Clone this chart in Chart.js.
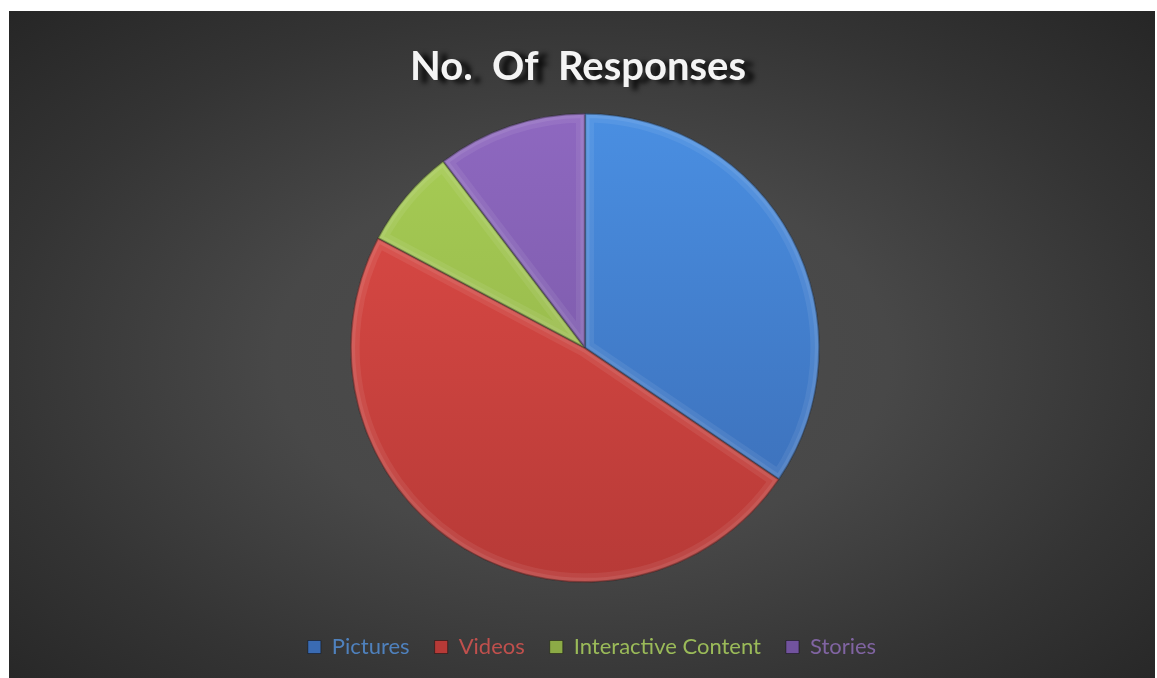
<!DOCTYPE html>
<html>
<head>
<meta charset="utf-8">
<script src="https://cdn.jsdelivr.net/npm/chart.js@4/dist/chart.umd.min.js"></script>
<style>
  html, body {
    margin: 0;
    padding: 0;
    background: #ffffff;
  }

  .frame {
    position: absolute;
    left: 9px;
    top: 11px;
    width: 1146px;
    height: 667px;
    background: radial-gradient(ellipse farthest-corner at 50% 52%, #4d4d4d 0%, #484848 38%, #343434 72%, #262626 100%);
  }
</style>
</head>
<body>
<div class="frame">
  <canvas id="responses" width="1146" height="667"></canvas>
</div>
<script>
const categories = ["Pictures", "Videos", "Interactive Content", "Stories"]
const responses = [10, 14, 2, 3]

// top / bottom shades for each slice, plus the legend text colour
const sliceTop = ["#4a8fe2", "#e04c47", "#a8ce55", "#8e68c0"]
const sliceBottom = ["#3a6bb3", "#b73a37", "#8cab46", "#72539e"]
const legendText = ["#4f81bd", "#c0504d", "#9bbb59", "#8064a2"]

const sliceFill = (context) => {
  const {chart, dataIndex} = context
  const {ctx, chartArea} = chart

  if (!chartArea) {
    return sliceTop[dataIndex]
  }

  const gradient = ctx.createLinearGradient(0, chartArea.top, 0, chartArea.bottom)
  gradient.addColorStop(0, sliceTop[dataIndex])
  gradient.addColorStop(1, sliceBottom[dataIndex])
  return gradient
}

// wraps a layout box's draw so it can be nudged sideways and given a shadow
const wrapDraw = (chart, block, dx, shadow) => {
  if (!block || block._wrapped) {
    return
  }
  const draw = block.draw.bind(block)
  block.draw = (area) => {
    const {ctx} = chart
    ctx.save()
    ctx.translate(dx, 0)
    if (shadow) {
      ctx.shadowColor = "rgba(0, 0, 0, 0.85)"
      ctx.shadowBlur = 5
      ctx.shadowOffsetX = 9
      ctx.shadowOffsetY = 3
    }
    draw(area)
    ctx.restore()
  }
  block._wrapped = true
}

const boxTweaks = {
  id: "boxTweaks",
  beforeDraw(chart) {
    wrapDraw(chart, chart.titleBlock, -7, true)
    wrapDraw(chart, chart.legend, 7, false)
  },
}

// soft bevel along the edges of every slice
const sliceBevel = {
  id: "sliceBevel",
  afterDatasetsDraw(chart) {
    const {ctx} = chart
    chart.getDatasetMeta(0).data.forEach((arc) => {
      const {x, y, startAngle, endAngle, outerRadius} = arc.getProps(
        ["x", "y", "startAngle", "endAngle", "outerRadius"],
        true
      )
      const slicePath = () => {
        ctx.beginPath()
        ctx.moveTo(x, y)
        ctx.arc(x, y, outerRadius, startAngle, endAngle)
        ctx.closePath()
      }
      ctx.save()
      slicePath()
      ctx.clip()
      ctx.lineJoin = "round"
      ctx.strokeStyle = "rgba(255, 255, 255, 0.07)"
      ctx.lineWidth = 18
      slicePath()
      ctx.stroke()
      ctx.strokeStyle = "rgba(255, 255, 255, 0.08)"
      ctx.lineWidth = 9
      slicePath()
      ctx.stroke()
      ctx.strokeStyle = "rgba(0, 0, 0, 0.25)"
      ctx.lineWidth = 2.5
      slicePath()
      ctx.stroke()
      ctx.restore()
    })
  },
}

new Chart(document.getElementById("responses"), {
  type: "pie",
  data: {
    labels: categories,
    datasets: [
      {
        data: responses,
        backgroundColor: sliceFill,
        borderColor: "rgba(0, 0, 0, 0.3)",
        borderWidth: 1,
        hoverOffset: 0,
      },
    ],
  },
  plugins: [boxTweaks, sliceBevel],
  options: {
    responsive: false,
    animation: false,
    layout: {
      padding: {left: 6, right: 0, top: 0, bottom: 10},
    },
    plugins: {
      title: {
        display: true,
        text: "No.  Of  Responses",
        color: "#f4f4f4",
        font: {family: "Lato, 'Open Sans', sans-serif", size: 40, weight: "bold"},
        padding: {top: 32, bottom: 22},
      },
      legend: {
        position: "bottom",
        title: {
          display: true,
          text: " ",
          font: {size: 1},
          padding: {top: 0, bottom: 27},
        },
        labels: {
          boxWidth: 13,
          boxHeight: 13,
          padding: 25,
          font: {family: "Lato, 'Open Sans', sans-serif", size: 22},
          generateLabels: (chart) =>
            categories.map((label, i) => ({
              text: label,
              fillStyle: sliceBottom[i],
              strokeStyle: "rgba(0, 0, 0, 0.4)",
              lineWidth: 1,
              fontColor: legendText[i],
              index: i,
              hidden: false,
            })),
        },
      },
      tooltip: {enabled: false},
    },
  },
})
</script>
</body>
</html>
